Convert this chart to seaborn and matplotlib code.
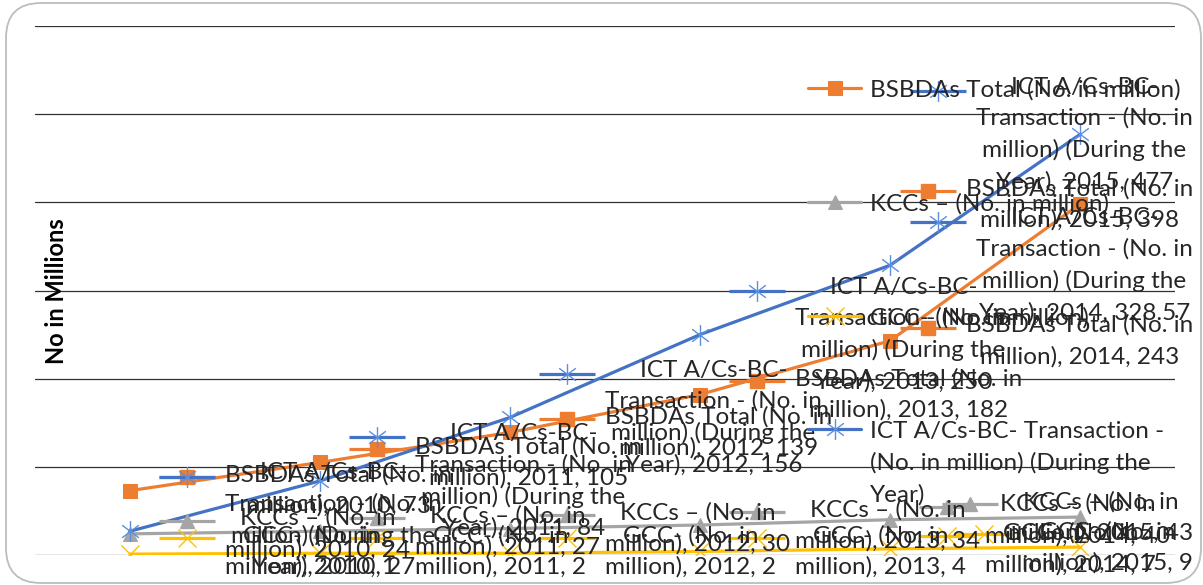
import textwrap
import numpy as np
import pandas as pd
import matplotlib
matplotlib.use("Agg")
import matplotlib.pyplot as plt
import matplotlib.transforms as mtransforms
from matplotlib.path import Path
from matplotlib.patches import FancyBboxPatch
import seaborn as sns

years = ["2010", "2011", "2012", "2013", "2014", "2015"]
bsbda = [73, 105, 139, 182, 243, 398]
kcc = [24, 27, 30, 34, 40, 43]
gcc = [1, 2, 2, 4, 7, 9]
ict = [27, 84, 156, 250, 328.57, 477]

names = ["BSBDAs Total (No. in million)",
         "KCCs \u2013 (No. in million)",
         "GCC- (No. in million)",
         "ICT A/Cs-BC- Transaction - (No. in million) (During the Year)"]
values = [bsbda, kcc, gcc, ict]
colors = ["#ED7D31", "#A5A5A5", "#FFC000", "#4472C4"]

sns.set_style("white")
plt.rcParams["font.family"] = ["Lato", "DejaVu Sans"]

W, H = 1203, 585
fig = plt.figure(figsize=(W / 100, H / 100), dpi=100)
ax = fig.add_axes([35 / W, 30 / H, 1140 / W, 529 / H])

star = Path([(0, -1), (0, 1), (-0.8, -0.6), (0.8, 0.6), (-0.8, 0.6), (0.8, -0.6)],
            [Path.MOVETO, Path.LINETO] * 3)
marker_style = [
    dict(marker="s", markersize=10, markerfacecolor=colors[0], markeredgecolor=colors[0]),
    dict(marker="^", markersize=10, markerfacecolor=colors[1], markeredgecolor=colors[1]),
    dict(marker="x", markersize=13, markeredgewidth=1.0, markeredgecolor="#FFC000"),
    dict(marker=star, markersize=15, markeredgewidth=1.0, markeredgecolor="#5B8FE0"),
]

for vals, c, ms in zip(values, colors, marker_style):
    sns.lineplot(x=years, y=vals, color=c, linewidth=2.3, ax=ax, **ms)
handles = list(ax.lines[:4])

ax.set_xlim(-0.5, 5.5)
ax.set_ylim(0, 600)
ax.set_yticks(range(0, 601, 100))
ax.set_xticks([])
ax.yaxis.grid(True, color="#303030", linewidth=0.9)
ax.tick_params(left=False, labelleft=False, bottom=False, labelbottom=False)
for s in ax.spines.values():
    s.set_visible(False)
ax.set_xlabel("")
ax.set_ylabel("")

fs = 17.5
lsp = 1.56
txt_color = "#262626"

# data labels with legend key, placed right of each point
labels = []
for name, vals, c, ms in zip(names, values, colors, marker_style):
    for i, v in enumerate(vals):
        s = textwrap.fill(f"{name}, {years[i]}, {v:g}", width=21, break_on_hyphens=False)
        ann = ax.annotate(s, (i, v), xytext=(95, 0), textcoords="offset pixels",
                          ha="left", va="center", multialignment="center",
                          fontsize=fs, color=txt_color, linespacing=lsp,
                          annotation_clip=False, zorder=5)
        labels.append((ann, i, v, c, ms, s.count("\n") + 1))

leg_labels = names[:3] + ["ICT A/Cs-BC- Transaction -"]
leg = ax.legend(handles, leg_labels,
                loc="upper left", bbox_to_anchor=(808 / W, 1 - 79 / H),
                bbox_transform=fig.transFigure, frameon=False, fontsize=fs,
                handlelength=2.2, handletextpad=0.35, labelspacing=3.8,
                borderpad=0, borderaxespad=0)
for t in leg.get_texts():
    t.set_color(txt_color)

fig.canvas.draw()
renderer = fig.canvas.get_renderer()

# rest of the wrapped ICT legend entry
ict_leg = leg.get_texts()[3].get_window_extent(renderer)
fig.text(ict_leg.x0 / W, ict_leg.y0 / H - 0.018, "(No. in million) (During the\nYear)",
         ha="left", va="top", fontsize=fs, color=txt_color, linespacing=lsp)

right_lim, bottom_lim = 1193, 7
for ann, i, v, c, ms, n in labels:
    bb = ann.get_window_extent(renderer)
    dx, dy = 95, 0
    if bb.x1 > right_lim:
        dx -= bb.x1 - right_lim
    if bb.y0 < bottom_lim:
        dy += bottom_lim - bb.y0
    ann.xyann = (dx, dy)
    line_h = bb.height / n
    off = mtransforms.offset_copy(ax.transData, fig=fig, x=dx - 38,
                                  y=dy + bb.height / 2 - line_h / 2, units="dots")
    ax.plot([i], [v], transform=off, marker="_", markersize=40, markeredgewidth=2.3,
            color=c, clip_on=False, zorder=4)
    ax.plot([i], [v], transform=off, linestyle="none", clip_on=False, zorder=4, **ms)

fig.text(57 / W, 1 - 291 / H, "No in Millions", rotation=90, ha="center", va="center",
         fontsize=17, fontweight="bold", color="black")

frame = FancyBboxPatch((6, 2), 1195, 580, boxstyle="round,pad=0,rounding_size=35",
                       transform=mtransforms.IdentityTransform(), fill=False,
                       edgecolor="#bdbdbd", linewidth=1.3, zorder=0)
fig.add_artist(frame)

fig.savefig("out.png", dpi=100)
